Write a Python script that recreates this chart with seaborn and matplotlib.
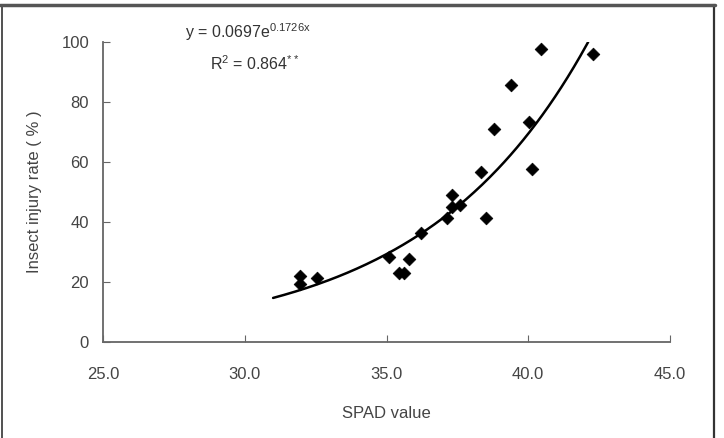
import numpy as np
import pandas as pd
import matplotlib.pyplot as plt
import seaborn as sns

# SPAD value vs insect injury rate
spad = [31.95, 31.95, 32.55, 35.1, 35.45, 35.6, 35.8, 36.2, 37.13, 37.3,
        37.3, 37.6, 38.33, 38.5, 38.8, 39.4, 40.03, 40.13, 40.44, 42.3]
injury = [22.1, 19.5, 21.3, 28.2, 22.9, 22.9, 27.6, 36.4, 41.5, 45.0,
          49.1, 45.6, 56.6, 41.5, 71.0, 85.6, 73.5, 57.7, 97.7, 96.0]

# exponential fit given on the chart
coef_a = 0.0697
coef_b = 0.1726
fit_start = 31.0

x_ticks = [25.0, 30.0, 35.0, 40.0, 45.0]
y_ticks = [0, 20, 40, 60, 80, 100]

df = pd.DataFrame({'SPAD': spad, 'Injury': injury})
fit_end = np.log(100 / coef_a) / coef_b
xs = np.linspace(fit_start, fit_end, 200)
fit_df = pd.DataFrame({'SPAD': xs, 'Injury': coef_a * np.exp(coef_b * xs)})

sns.set_style('ticks')
plt.rcParams['font.family'] = ['Liberation Sans', 'DejaVu Sans']
plt.rcParams['mathtext.fontset'] = 'custom'
plt.rcParams['mathtext.rm'] = 'Liberation Sans'

fig = plt.figure(figsize=(7.24, 4.38), dpi=100)
ax = fig.add_axes([103 / 724, 1 - 342 / 438, 567 / 724, 300 / 438])

sns.lineplot(data=fit_df, x='SPAD', y='Injury', color='black', linewidth=1.8, ax=ax)
sns.scatterplot(data=df, x='SPAD', y='Injury', marker='D', s=42, color='black',
                edgecolor='black', linewidth=0.5, ax=ax, zorder=3)

ax.set_xlim(25, 45)
ax.set_ylim(0, 100)
ax.set_xticks(x_ticks)
ax.set_xticklabels([f'{v:.1f}' for v in x_ticks])
ax.set_yticks(y_ticks)
sns.despine(ax=ax)
for s in ['left', 'bottom']:
    ax.spines[s].set_color('#666666')
    ax.spines[s].set_linewidth(1.3)
ax.tick_params(axis='x', direction='in', length=5, pad=18, labelsize=12,
               colors='#666666', labelcolor='#444444')
ax.tick_params(axis='y', direction='in', length=5, pad=10, labelsize=12,
               colors='#666666', labelcolor='#444444')

ax.set_xlabel('SPAD value', fontsize=12, color='#444444', labelpad=17)
ax.set_ylabel('Insect injury rate ( % )', fontsize=12, color='#444444', labelpad=14)

fig.text(185 / 724, 1 - 32 / 438, r'y = 0.0697e$^{\mathrm{0.1726x}}$', fontsize=11.5,
         color='#333333', va='center', ha='left')
fig.text(210 / 724, 1 - 64 / 438, r'R$^{\mathrm{2}}$ = 0.864$^{\mathrm{**}}$', fontsize=11.5,
         color='#333333', va='center', ha='left')

# outer frame of the figure
frame = dict(transform=fig.transFigure, color='#333333')
fig.add_artist(plt.Line2D([1.5 / 724, 1.5 / 724], [0, 1 - 5 / 438], linewidth=1.2, **frame))
fig.add_artist(plt.Line2D([714 / 724, 714 / 724], [0, 1 - 5 / 438], linewidth=1.6, **frame))
fig.add_artist(plt.Line2D([0, 715 / 724], [1 - 5 / 438, 1 - 5 / 438], linewidth=2.5,
                          transform=fig.transFigure, color='#555555'))

fig.savefig('out.png', dpi=100)
